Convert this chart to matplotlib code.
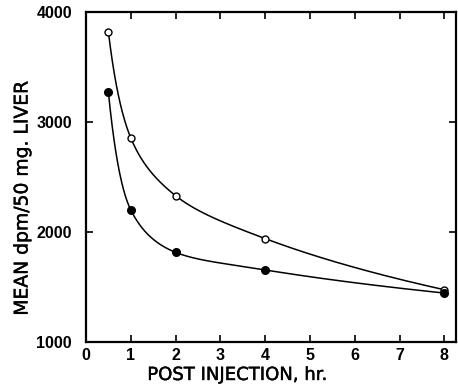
import numpy as np
import matplotlib.pyplot as plt
import matplotlib.patheffects as pe

plt.rcParams['font.family'] = ['Liberation Sans', 'DejaVu Sans']
plt.rcParams['font.weight'] = 'bold'

hours = [0.5, 1, 2, 4, 8]
open_vals = [3820, 2855, 2330, 1940, 1475]
filled_vals = [3270, 2200, 1815, 1655, 1445]
xticks = [0, 1, 2, 3, 4, 5, 6, 7, 8]
yticks = [1000, 2000, 3000, 4000]


def pchip(x, y, xs):
    # monotone cubic through the measured points, only for drawing the curve
    x = np.asarray(x, float)
    y = np.asarray(y, float)
    h = np.diff(x)
    d = np.diff(y) / h
    m = np.zeros_like(y)
    for k in range(1, len(x) - 1):
        if d[k - 1] * d[k] > 0:
            w1 = 2 * h[k] + h[k - 1]
            w2 = h[k] + 2 * h[k - 1]
            m[k] = (w1 + w2) / (w1 / d[k - 1] + w2 / d[k])
    m[0] = ((2 * h[0] + h[1]) * d[0] - h[0] * d[1]) / (h[0] + h[1])
    if m[0] * d[0] <= 0:
        m[0] = 0
    m[-1] = ((2 * h[-1] + h[-2]) * d[-1] - h[-1] * d[-2]) / (h[-1] + h[-2])
    if m[-1] * d[-1] <= 0:
        m[-1] = 0
    out = np.empty_like(xs)
    for i, xv in enumerate(xs):
        k = min(np.searchsorted(x, xv) - 1, len(x) - 2)
        k = max(k, 0)
        t = (xv - x[k]) / h[k]
        h00 = 2 * t**3 - 3 * t**2 + 1
        h10 = t**3 - 2 * t**2 + t
        h01 = -2 * t**3 + 3 * t**2
        h11 = t**3 - t**2
        out[i] = h00 * y[k] + h10 * h[k] * m[k] + h01 * y[k + 1] + h11 * h[k] * m[k + 1]
    return out


fig = plt.figure(figsize=(4.58, 3.85), dpi=100)
ax = fig.add_axes([86 / 458, 43 / 385, 370 / 458, 330 / 385])

# smooth in log-time so the curve bends gently through each point
lx = np.log(hours)
xs = np.linspace(lx[0], lx[-1], 400)
ax.plot(np.exp(xs), pchip(lx, open_vals, xs), color='black', lw=1.1)
ax.plot(np.exp(xs), pchip(lx, filled_vals, xs), color='black', lw=1.1)
ax.plot(hours, open_vals, 'o', ms=5, mfc='white', mec='black', mew=1)
ax.plot(hours, filled_vals, 'o', ms=5.5, mfc='black', mec='black')

ax.set_xlim(0, 8.26)
ax.set_ylim(1000, 4000)
ax.set_xticks(xticks)
ax.set_yticks(yticks)
ax.tick_params(direction='in', length=5, width=1.2, top=True, right=True,
               labelsize=11.5)
ax.tick_params(axis='x', pad=4)
ax.tick_params(axis='y', pad=10)
for s in ax.spines.values():
    s.set_linewidth(1.6)

semi = [pe.withStroke(linewidth=0.3, foreground='black')]
fig.text(22 / 458, 1 - 198 / 385, 'MEAN dpm/50 mg. LIVER', rotation=90,
         ha='center', va='center', fontsize=13.5, family='DejaVu Sans',
         weight='normal', path_effects=semi)
fig.text(237 / 458, 1 - 375 / 385, 'POST INJECTION, hr.', ha='center',
         va='center', fontsize=13, family='DejaVu Sans', weight='normal',
         path_effects=semi)

fig.savefig('out.png', dpi=100)
